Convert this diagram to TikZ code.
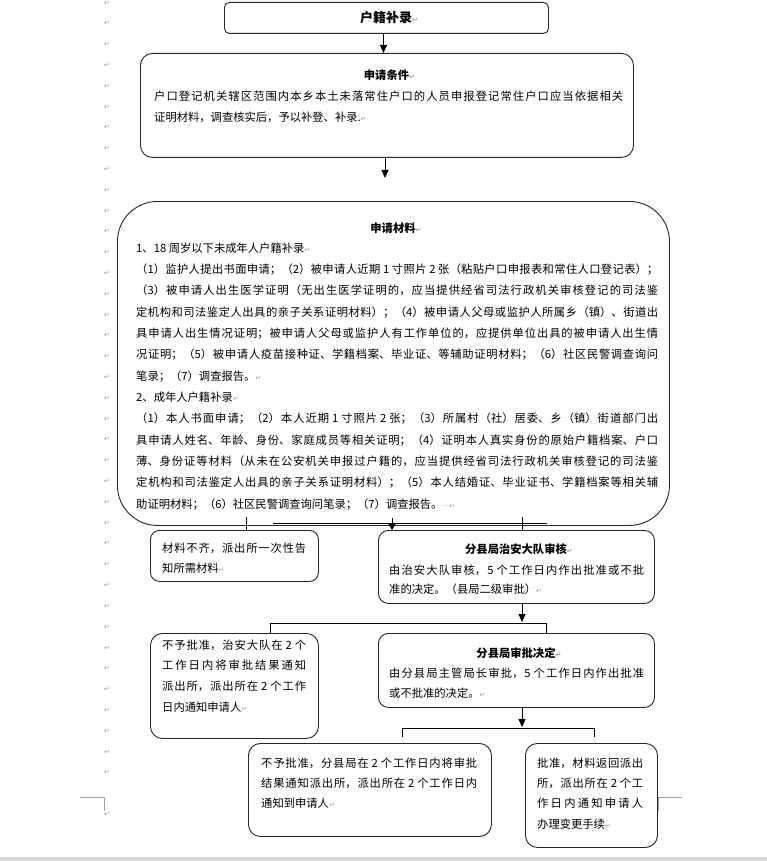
\documentclass[tikz,border=0pt]{standalone}
\usepackage{fontspec}
\setmainfont{Noto Sans CJK SC}
\newfontfamily\dejavu{DejaVu Sans}
\usetikzlibrary{arrows.meta}
\XeTeXlinebreaklocale "zh"
\XeTeXlinebreakskip=0pt plus 3pt minus 0.25pt
\setlength{\parindent}{0pt}
\setlength{\parskip}{0pt}
\definecolor{markgray}{HTML}{A0A0A0}
\definecolor{bandgray}{HTML}{D6D6D6}
\newcommand{\pmark}{{\dejavu\fontsize{7}{7}\selectfont\color{markgray}↵}}
\newcommand{\spmark}{{\dejavu\fontsize{7}{7}\selectfont\color{markgray}···}}
\begin{document}
\begin{tikzpicture}[x=1pt,y=-1pt,
  box/.style={draw=black!85, line width=0.9pt, inner sep=0pt, anchor=north west},
  txt/.style={inner sep=0pt, anchor=north west, align=justify},
  head/.style={inner sep=0pt, anchor=base, font=\bfseries\fontsize{11.3}{13}\selectfont},
  arr/.style={line width=0.9pt, -{Triangle[width=7pt,length=8pt]}},
  sarr/.style={line width=0.9pt, -{Triangle[width=7pt,length=6pt]}},
  ln/.style={line width=0.9pt},
  crop/.style={draw=markgray, line width=0.8pt},
  pm/.style={inner sep=0pt, anchor=center}
]
\useasboundingbox (0,0) rectangle (767,861);
\fill[white] (0,0) rectangle (767,861);
\fill[bandgray] (0,857) rectangle (767,861);

% paragraph marks in the margin
\foreach \k in {0,...,37} {
  \node[pm] (pm\k) at (107, 3+20.8*\k) {\pmark};
}
\node[pm] (pmlast) at (107, 814) {\pmark};
\draw[crop] (80,797) -- (104,797) -- (104,811);
\draw[crop] (682,797) -- (658,797) -- (658,811);

% boxes
\node[box, rounded corners=5pt, minimum width=324pt, minimum height=31pt] (title) at (224,2) {};
\node[box, rounded corners=12pt, minimum width=493pt, minimum height=104pt] (cond) at (140,53) {};
\node[box, rounded corners=40pt, minimum width=552pt, minimum height=324pt] (mat) at (117,201) {};
\node[box, rounded corners=9pt, minimum width=168pt, minimum height=51pt] (boxA) at (150,530) {};
\node[box, rounded corners=10pt, minimum width=276pt, minimum height=73pt] (boxB) at (378,530) {};
\node[box, rounded corners=12pt, minimum width=168pt, minimum height=105pt] (boxC) at (150,633) {};
\node[box, rounded corners=10pt, minimum width=276pt, minimum height=74pt] (boxD) at (378,633) {};
\node[box, rounded corners=12pt, minimum width=243pt, minimum height=93pt] (boxE) at (248,743) {};
\node[box, rounded corners=12pt, minimum width=132pt, minimum height=104pt] (boxF) at (525,743) {};

% texts
\node[head, font=\bfseries\fontsize{13}{15}\selectfont] (titletext) at (386,22.8) {户籍补录\rlap{\pmark}};

\node[head] (condhead) at (386.5,79.3) {申请条件\rlap{\pmark}};
\node[txt, text width=469pt, font=\fontsize{11.3}{20.5}\selectfont] (condbody) at (154,90.9) {户口登记机关辖区范围内本乡本土未落常住户口的人员申报登记常住户口应当依据相关\linebreak
证明材料，调查核实后，予以补登、补录.\pmark};

\node[head] (mathead) at (393,232.3) {申请材料\rlap{\pmark}};
\node[txt, text width=522pt, font=\fontsize{11.3}{21.33}\selectfont] (matbody) at (136,242.4) {1、18 周岁以下未成年人户籍补录\pmark\par
（1）监护人提出书面申请；（2）被申请人近期 1 寸照片 2 张（粘贴户口申报表和常住人口登记表）；\linebreak
（3）被申请人出生医学证明（无出生医学证明的，应当提供经省司法行政机关审核登记的司法鉴\linebreak
定机构和司法鉴定人出具的亲子关系证明材料）；（4）被申请人父母或监护人所属乡（镇）、街道出\linebreak
具申请人出生情况证明；被申请人父母或监护人有工作单位的，应提供单位出具的被申请人出生情\linebreak
况证明；（5）被申请人疫苗接种证、学籍档案、毕业证、等辅助证明材料；（6）社区民警调查询问\linebreak
笔录；（7）调查报告。\pmark\par
2、成年人户籍补录\pmark\par
（1）本人书面申请；（2）本人近期 1 寸照片 2 张；（3）所属村（社）居委、乡（镇）街道部门出\linebreak
具申请人姓名、年龄、身份、家庭成员等相关证明；（4）证明本人真实身份的原始户籍档案、户口\linebreak
薄、身份证等材料（从未在公安机关申报过户籍的，应当提供经省司法行政机关审核登记的司法鉴\linebreak
定机构和司法鉴定人出具的亲子关系证明材料）；（5）本人结婚证、毕业证书、学籍档案等相关辅\linebreak
助证明材料；（6）社区民警调查询问笔录；（7）调查报告。\spmark\pmark};

\node[txt, text width=144pt, font=\fontsize{11.3}{20}\selectfont] (Atext) at (162,542.4) {材料不齐，派出所一次性告\linebreak
知所需材料\pmark};

\node[head] (Bhead) at (516,553.3) {分县局治安大队审核\rlap{\pmark}};
\node[txt, text width=255pt, font=\fontsize{11.3}{19.5}\selectfont] (Btext) at (389,564.4) {由治安大队审核，5 个工作日内作出批准或不批\linebreak
准的决定。（县局二级审批）\pmark};

\node[txt, text width=144pt, font=\fontsize{11.3}{20.7}\selectfont] (Ctext) at (162,639.4) {不予批准，治安大队在 2 个\linebreak
工作日内将审批结果通知\linebreak
派出所，派出所在 2 个工作\linebreak
日内通知申请人\pmark};

\node[head] (Dhead) at (516,657.3) {分县局审批决定\rlap{\pmark}};
\node[txt, text width=255pt, font=\fontsize{11.3}{20}\selectfont] (Dtext) at (389,667.4) {由分县局主管局长审批，5 个工作日内作出批准\linebreak
或不批准的决定。\pmark};

\node[txt, text width=216pt, font=\fontsize{11.3}{20}\selectfont] (Etext) at (261,757.4) {不予批准，分县局在 2 个工作日内将审批\linebreak
结果通知派出所，派出所在 2 个工作日内\linebreak
通知到申请人\pmark};

\node[txt, text width=106pt, font=\fontsize{11.3}{20.3}\selectfont] (Ftext) at (537,757.4) {批准，材料返回派出\linebreak
所，派出所在 2 个工\linebreak
作日内通知申请人\linebreak
办理变更手续\pmark};

% connectors
\draw[arr] ([xshift=-3pt]title.south) -- ([xshift=-3pt]title.south |- cond.north);
\coordinate (a2end) at (385,178);
\draw[arr] (cond.south -| a2end) -- (a2end);

% bracket under the materials box
\coordinate (b1l) at (246,517);
\coordinate (b1r) at (522,517);
\coordinate (b1a) at (392,518);
\coordinate (b1hl) at (273,523);
\coordinate (b1hr) at (547,523);
\draw[ln] (b1hl) -- (b1hr);
\draw[ln] (b1l) -- (b1l |- boxA.north);
\draw[ln] (b1r) -- (b1r |- boxB.north);
\draw[sarr] (b1a) -- (b1a |- boxB.north);

% bracket under the first review box
\coordinate (b2a) at (522,622);
\coordinate (b2l) at (270,623);
\coordinate (b2r) at (546,623);
\draw[arr] (boxB.south -| b2a) -- (b2a);
\draw[ln] (b2l) -- (b2r);
\draw[ln] (b2l) -- (b2l |- boxC.north);
\draw[ln] (b2r) -- (b2r |- boxD.north);

% bracket under the approval box
\coordinate (b3a) at (522,727);
\coordinate (b3l) at (402,728);
\coordinate (b3r) at (594,728);
\coordinate (b3le) at (402,737);
\coordinate (b3re) at (594,737);
\draw[arr] (boxD.south -| b3a) -- (b3a);
\draw[ln] (b3le) -- (b3l) -- (b3r) -- (b3re);
\end{tikzpicture}
\end{document}
